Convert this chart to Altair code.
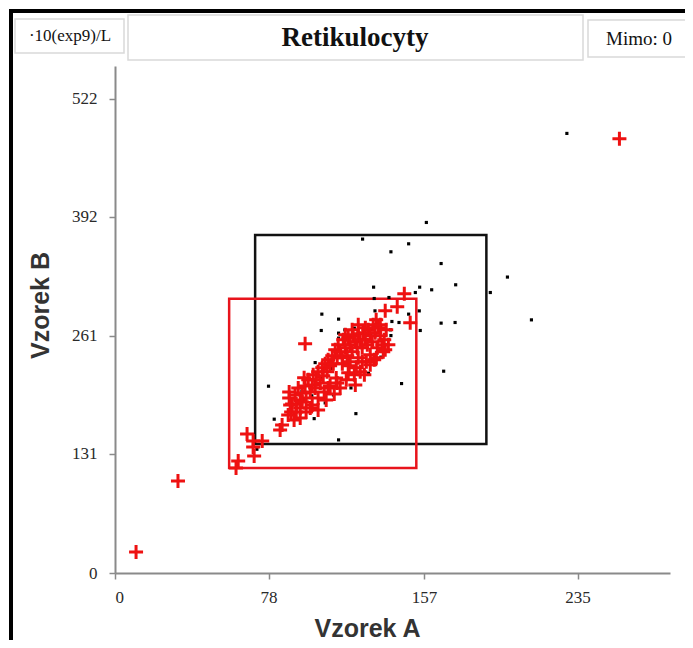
import altair as alt
import pandas as pd

# ---- data ----
red_x = [10.7, 32.0, 61.5, 62.6, 67.1, 70.2, 70.7, 70.2, 74.8, 83.9, 84.9, 89.5, 88.5, 88.5,
         90.0, 91.5, 93.1, 94.1, 95.1, 96.6, 97.1, 98.2, 99.2, 100.2, 100.7, 101.7, 102.2,
         103.2, 104.3, 105.3, 105.8, 106.8, 107.8, 108.3, 109.3, 110.4, 110.9, 111.9, 112.9,
         113.4, 114.4, 115.5, 116.0, 117.0, 118.0, 118.5, 119.5, 120.5, 121.0, 122.1, 123.1,
         123.6, 124.6, 125.6, 126.1, 127.2, 128.2, 128.7, 129.7, 130.7, 131.2, 132.2, 132.7,
         133.8, 134.8, 135.8, 136.8, 137.3, 131.7, 127.7, 124.6, 121.6, 118.5, 112.9, 108.3,
         96.6, 137.3, 143.4, 147.0, 150.0, 92.1, 94.1, 96.1, 119.0, 123.6, 133.3, 129.7, 256.3,
         88.0, 91.0, 94.1, 97.1, 100.2, 103.2, 106.3, 109.3, 112.4, 92.1, 95.1, 99.2, 103.2,
         107.3, 111.4, 114.4, 89.0,
         117.0, 120.5, 123.6, 127.2, 115.5, 119.5, 122.6, 125.6, 129.7, 132.8, 136.3, 138.9,
         134.8, 137.8, 126.7, 122.1, 117.5]
red_y = [23.1, 101.3, 115.6, 123.3, 153.1, 138.8, 128.9, 145.4, 145.4, 157.5, 163.0, 177.3,
         192.7, 199.3, 186.1, 196.0, 203.7, 190.5, 198.2, 205.9, 192.7, 212.6, 199.3, 207.0,
         218.1, 203.7, 212.6, 221.4, 209.2, 225.8, 217.0, 230.2, 221.4, 234.6, 228.0, 239.0,
         230.2, 245.6, 236.8, 251.1, 243.4, 230.2, 256.6, 247.8, 239.0, 258.8, 251.1, 243.4,
         261.0, 254.4, 247.8, 263.2, 256.6, 247.8, 264.3, 256.6, 251.1, 267.6, 261.0, 254.4,
         273.1, 264.3, 278.6, 269.8, 261.0, 251.1, 256.6, 245.6, 234.6, 232.4, 221.4, 218.1,
         220.3, 209.2, 203.7, 252.2, 288.5, 292.9, 307.3, 275.3, 186.1, 181.7, 214.8, 228.0,
         236.8, 247.8, 240.1, 478.0,
         174.0, 168.5, 170.7, 177.3, 185.0, 192.7, 199.3, 205.9, 214.7, 177.3, 188.3, 181.7,
         179.5, 190.5, 197.1, 203.7, 185.0,
         262.1, 267.6, 273.1, 269.8, 236.8, 232.4, 225.8, 232.4, 229.1, 236.8, 243.4, 251.1,
         273.1, 267.6, 218.1, 207.0, 212.6]

black_x = [158.2, 125.8, 149.2, 140.2, 165.7, 199.4, 211.6, 229.6, 131.4, 154.8, 152.6, 160.9,
           173.1, 190.7, 131.7, 139.2, 132.1, 140.7, 144.3, 149.2, 154.6, 165.7, 172.8, 155.1,
           105.1, 113.6, 104.8, 113.6, 116.8, 121.6, 113.6, 139.9, 140.2, 167.0, 145.6, 128.8,
           101.7, 119.9, 78.0, 80.9, 122.4, 113.6, 106.8, 111.0, 135.1, 72.1, 101.2,
           95.0, 105.0, 115.0, 125.0, 100.0, 110.0, 120.0, 130.0, 90.0, 135.0]
black_y = [385.8, 367.5, 362.3, 353.5, 340.6, 325.7, 278.6, 483.8, 314.6, 314.6, 308.7, 311.7,
           317.2, 308.7, 302.1, 303.2, 288.5, 276.8, 275.7, 284.9, 288.5, 275.0, 275.7, 266.9,
           284.9, 279.4, 266.9, 264.0, 267.6, 269.5, 258.5, 267.6, 261.3, 222.1, 208.5, 219.9,
           231.6, 203.7, 205.6, 169.3, 175.4, 146.5, 187.2, 196.0, 237.6, 136.2, 169.9,
           200.0, 215.0, 240.0, 255.0, 195.0, 225.0, 250.0, 262.0, 185.0, 270.0]

box_name = ["black", "red"]
box_x1 = [71.2, 58.0]
box_x2 = [188.7, 153.1]
box_y1 = [142.0, 115.6]
box_y2 = [372.0, 301.8]

x_ticks = [0, 78, 157, 235]
y_ticks = [0, 131, 261, 392, 522]

title_text = "Retikulocyty"
unit_text = "·10(exp9)/L"
mimo_text = "Mimo: 0"

red_df = pd.DataFrame({"a": red_x, "b": red_y})
black_df = pd.DataFrame({"a": black_x, "b": black_y})
box_df = pd.DataFrame({"name": box_name, "x1": box_x1, "x2": box_x2, "y1": box_y1, "y2": box_y2})
one = pd.DataFrame({"k": [0]})

xscale = alt.Scale(domain=[0, 282], nice=False, zero=False)
yscale = alt.Scale(domain=[0, 558], nice=False, zero=False)

xaxis = alt.Axis(values=x_ticks, title="Vzorek A", grid=False, domainColor="#8a8a8a",
                 domainWidth=2, tickColor="#8a8a8a", tickWidth=1.5, tickSize=6,
                 labelFont="Liberation Serif", labelFontSize=17, labelColor="#2a2a2a",
                 labelPadding=10, titleFont="Liberation Sans", titleFontSize=25,
                 titleFontWeight="bold", titleColor="#333333", titleX=252, titleY=63,
                 titleBaseline="alphabetic", titleAlign="center")
yaxis = alt.Axis(values=y_ticks, title="Vzorek B", grid=False, domainColor="#8a8a8a",
                 domainWidth=2, tickColor="#8a8a8a", tickWidth=1.5, tickSize=6,
                 labelFont="Liberation Serif", labelFontSize=17, labelColor="#2a2a2a",
                 labelPadding=12, titleFont="Liberation Sans", titleFontSize=25,
                 titleFontWeight="bold", titleColor="#333333", titleX=-75, titleY=239,
                 titleAngle=270, titleBaseline="middle", titleAlign="center")

boxes = alt.Chart(box_df).mark_rect(fillOpacity=0, strokeWidth=2.5).encode(
    x=alt.X("x1:Q", scale=xscale, axis=xaxis),
    x2="x2:Q",
    y=alt.Y("y1:Q", scale=yscale, axis=yaxis),
    y2="y2:Q",
    stroke=alt.Stroke("name:N", scale=alt.Scale(domain=["black", "red"],
                                                 range=["#111111", "#e8141c"]), legend=None),
)

black_pts = alt.Chart(black_df).mark_square(size=10, color="#000000", opacity=1).encode(
    x=alt.X("a:Q", scale=xscale),
    y=alt.Y("b:Q", scale=yscale),
)

red_pts = alt.Chart(red_df).mark_point(shape="M-1,0H1M0,-1V1", size=196, filled=False,
                                      color="#ee1111", strokeWidth=3, opacity=1).encode(
    x=alt.X("a:Q", scale=xscale),
    y=alt.Y("b:Q", scale=yscale),
)

def deco_rect(x, x2, y, y2, stroke, sw):
    return alt.Chart(one).mark_rect(fillOpacity=0, stroke=stroke, strokeWidth=sw).encode(
        x=alt.value(x), x2=alt.value(x2), y=alt.value(y), y2=alt.value(y2))

def deco_text(txt, x, y, font, size, weight):
    return alt.Chart(one).mark_text(font=font, fontSize=size, fontWeight=weight,
                                    color="#111111", align="center", baseline="middle").encode(
        x=alt.value(x), y=alt.value(y), text=alt.value(txt))

frame = deco_rect(-104, 700, -55, 700, "#000000", 4)
box1 = deco_rect(-100, 9, -47, -13, "#d9d9d9", 1.5)
box2 = deco_rect(13, 468, -51, -6, "#d9d9d9", 1.5)
box3 = deco_rect(473, 577, -46, -9, "#d9d9d9", 1.5)
t1 = deco_text(unit_text, -45, -30, "Liberation Serif", 17, "normal")
t2 = deco_text(title_text, 240, -28, "Liberation Serif", 27, "bold")
t3 = deco_text(mimo_text, 524, -27, "Liberation Serif", 19, "normal")

chart = alt.layer(boxes, black_pts, red_pts, frame, box1, box2, box3, t1, t2, t3).properties(
    width=555, height=507, autosize="none",
    padding={"left": 107, "top": 58, "right": 15, "bottom": 67},
).configure_view(stroke="transparent")

chart.save("out.html", embed_options={"renderer": "svg", "actions": False})
